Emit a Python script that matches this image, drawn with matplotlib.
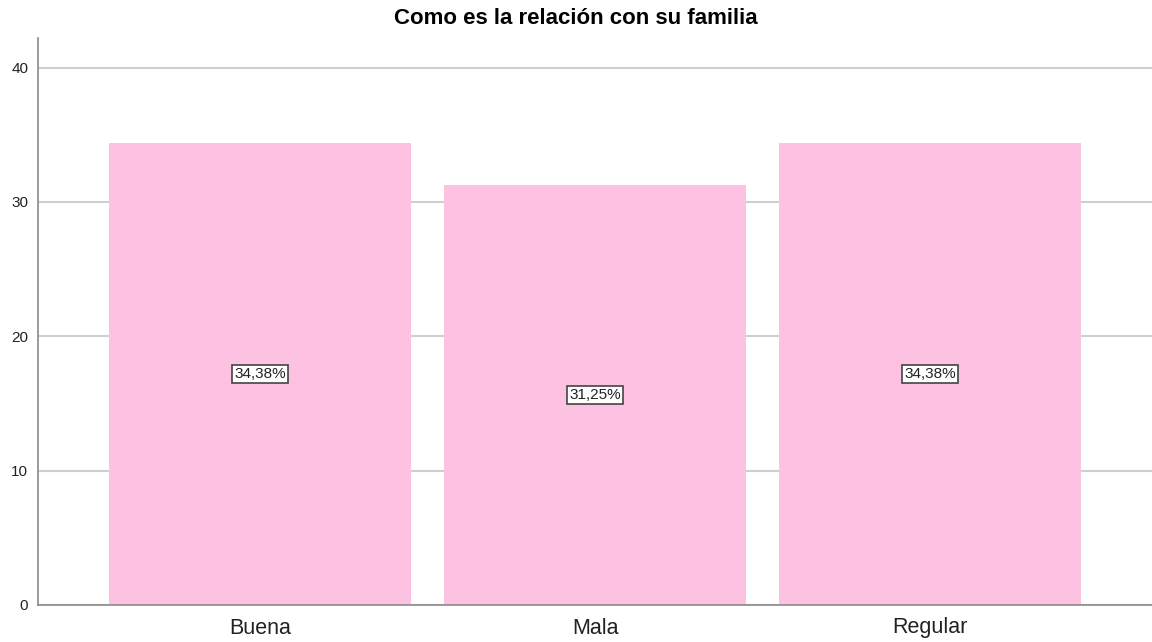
import matplotlib.pyplot as plt

plt.rcParams["font.family"] = ["Liberation Sans", "DejaVu Sans"]

categories = ["Buena", "Mala", "Regular"]
percentages = [34.38, 31.25, 34.38]
labels = ["34,38%", "31,25%", "34,38%"]
yticks = [0, 10, 20, 30, 40]

fig = plt.figure(figsize=(11.52, 6.42), dpi=100)
ax = fig.add_axes([38 / 1152, 1 - 605 / 642, 1 - 38 / 1152, (605 - 38) / 642])

x = range(len(categories))
ax.bar(x, percentages, width=0.9, color="#fdc2e1", zorder=2)

for xi, v, lab in zip(x, percentages, labels):
    ax.text(xi, v / 2, lab, ha="center", va="center", fontsize=11, zorder=3,
            color="#222222",
            bbox=dict(boxstyle="square,pad=0.12", facecolor="white",
                      edgecolor="#444444", linewidth=1.2))

ax.set_xlim(-0.663, 2.663)
ax.set_ylim(0, 42.2)
ax.set_yticks(yticks)
ax.set_xticks(list(x))
ax.set_xticklabels(categories, fontsize=15.5, color="#222222")
ax.tick_params(axis="y", length=0, labelsize=11, pad=7, labelcolor="#222222")
ax.tick_params(axis="x", length=0, pad=9)
ax.yaxis.grid(True, color="#cfcfcf", linewidth=1.5, zorder=1)
ax.set_axisbelow(True)

for s in ["top", "right"]:
    ax.spines[s].set_visible(False)
for s in ["left", "bottom"]:
    ax.spines[s].set_color("#8a8a8a")
    ax.spines[s].set_linewidth(1.2)

fig.text(0.5, 1 - 18 / 642, "Como es la relación con su familia", ha="center",
         va="center", fontsize=16, fontweight="bold")

fig.savefig("out.png", dpi=100)
